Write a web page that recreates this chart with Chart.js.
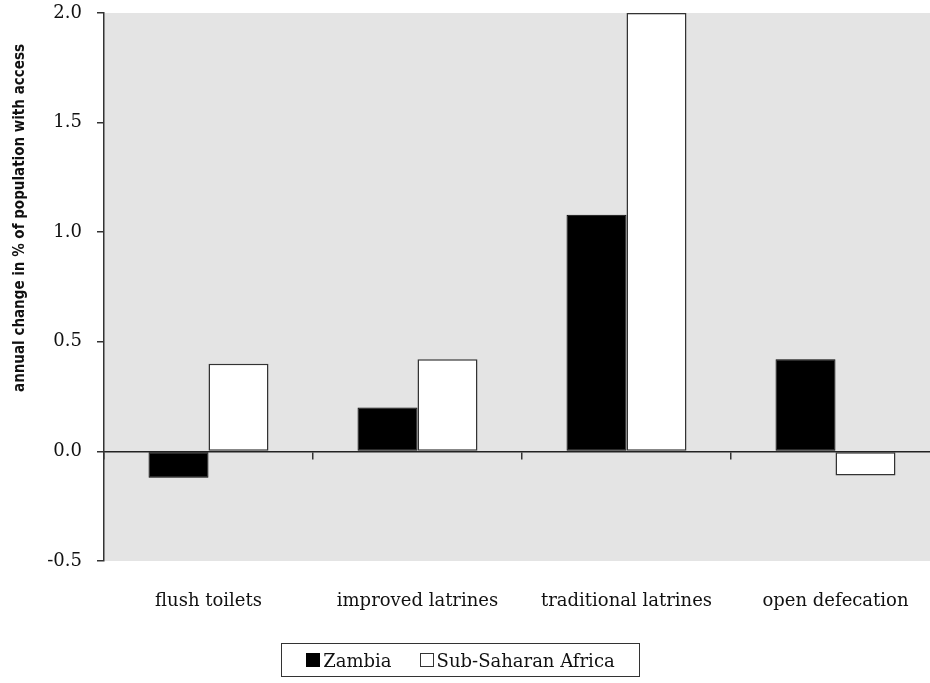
<!DOCTYPE html>
<html>
<head>
<meta charset="utf-8">
<script src="https://cdn.jsdelivr.net/npm/chart.js@4/dist/chart.umd.min.js"></script>
<style>
    html, body { margin: 0; padding: 0; background: #fff; overflow: hidden; }
    #wrap { position: relative; width: 960px; height: 683px; }
    #legend {
        position: absolute; left: 281px; top: 643px; width: 359px; height: 34px;
        box-sizing: border-box; border: 1.5px solid #333;
        display: flex; align-items: center; justify-content: center;
        font: 18px 'DejaVu Serif', serif; color: #111;
    }
    #legend .sw { display: inline-block; width: 14px; height: 14px; box-sizing: border-box; margin-right: 3px; }
    #legend .item { display: flex; align-items: center; margin: 0 14px; }
</style>
</head>
<body>
<div id="wrap">
    <canvas id="chart" width="960" height="683"></canvas>
    <div id="legend"></div>
</div>
<script>
// 데이터
const categories = ['flush toilets', 'improved latrines', 'traditional latrines', 'open defecation'];
const zambia = [-0.12, 0.20, 1.08, 0.42];
const subSaharan = [0.40, 0.42, 2.0, -0.11];
const seriesNames = ['Zambia', 'Sub-Saharan Africa'];
const yMin = -0.5;
const yMax = 2.0;
const yStep = 0.5;
const yTitle = 'annual change in % of population with access';

const serif = "'DejaVu Serif', serif";

// 플롯 배경
const plotBackground = {
    id: 'plotBackground',
    beforeDraw(chart) {
        const { ctx, chartArea } = chart;
        ctx.save();
        ctx.fillStyle = '#e4e4e4';
        ctx.fillRect(chartArea.left, chartArea.top, chartArea.right - chartArea.left, chartArea.bottom - chartArea.top);
        ctx.restore();
    }
};

// 세로 축 제목 (축 가운데보다 위쪽에 있음)
const sideTitle = {
    id: 'sideTitle',
    afterDraw(chart) {
        const ctx = chart.ctx;
        ctx.save();
        ctx.translate(20, 218);
        ctx.rotate(-Math.PI / 2);
        ctx.textAlign = 'center';
        ctx.textBaseline = 'middle';
        ctx.fillStyle = '#111';
        ctx.font = "bold 15px 'DejaVu Sans Condensed', sans-serif";
        ctx.fillText(yTitle, 0, 0);
        ctx.restore();
    }
};

const chart = new Chart(document.getElementById('chart'), {
    type: 'bar',
    data: {
        labels: categories,
        datasets: [
            {
                label: seriesNames[0],
                data: zambia,
                backgroundColor: '#000',
                borderColor: '#000',
                borderWidth: 1,
                borderSkipped: false
            },
            {
                label: seriesNames[1],
                data: subSaharan,
                backgroundColor: '#fff',
                borderColor: '#333',
                borderWidth: 1.5,
                borderSkipped: false
            }
        ]
    },
    options: {
        responsive: false,
        animation: false,
        layout: { padding: { top: 13, right: 20, left: 0, bottom: 0 } },
        datasets: { bar: { categoryPercentage: 0.574, barPercentage: 1 } },
        plugins: {
            legend: { display: false },
            tooltip: { enabled: false }
        },
        scales: {
            x: {
                position: 'bottom',
                grid: { display: false, drawTicks: false },
                border: { display: false },
                ticks: { padding: 30, color: '#111', font: { family: serif, size: 18 } },
                afterFit: (scale) => { scale.height = 122; }
            },
            x2: {
                type: 'category',
                position: { y: 0 },
                grid: { offset: true, drawOnChartArea: false, tickLength: 7, color: '#333', lineWidth: 1.5 },
                border: { display: true, color: '#222', width: 1.5 },
                ticks: { display: false }
            },
            y: {
                min: yMin,
                max: yMax,
                grid: { drawOnChartArea: false, tickLength: 7, color: '#333', lineWidth: 1.5 },
                border: { display: true, color: '#333', width: 1.5 },
                ticks: {
                    stepSize: yStep,
                    padding: 15,
                    color: '#111',
                    font: { family: serif, size: 18 },
                    callback: (v) => Number(v).toFixed(1)
                },
                afterFit: (scale) => {
                    scale.width = 104;
                    scale.paddingTop = 0;
                    scale.paddingBottom = 0;
                }
            }
        }
    },
    plugins: [plotBackground, sideTitle]
});

// 범례
const legend = document.getElementById('legend');
legend.innerHTML = chart.data.datasets.map(ds => `
    <span class="item">
        <span class="sw" style="background:${ds.backgroundColor};border:1px solid ${ds.borderColor}"></span>${ds.label}
    </span>
`).join('');
</script>
</body>
</html>
